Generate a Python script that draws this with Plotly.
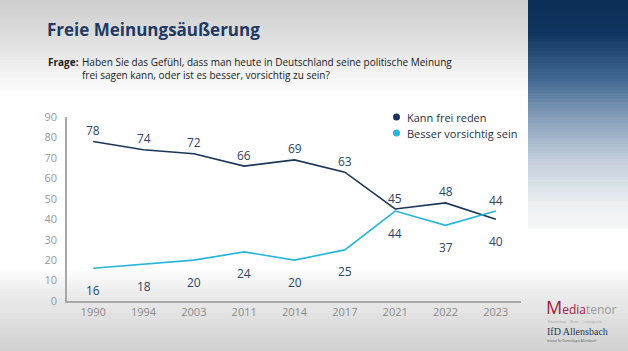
import plotly.graph_objects as go
import numpy as np

# ---- data ----
years = ["1990", "1994", "2003", "2011", "2014", "2017", "2021", "2022", "2023"]
kann_frei_reden = [78, 74, 72, 66, 69, 63, 45, 48, 40]
besser_vorsichtig = [16, 18, 20, 24, 20, 25, 44, 37, 44]
series_names = ["Kann frei reden", "Besser vorsichtig sein"]
y_ticks = [0, 10, 20, 30, 40, 50, 60, 70, 80, 90]

title_text = "Freie Meinungsäußerung"
frage_label = "Frage:"
frage_text = ("Haben Sie das Gefühl, dass man heute in Deutschland seine politische Meinung<br>"
              "frei sagen kann, oder ist es besser, vorsichtig zu sein?")

# ---- layout geometry (pixels) ----
W, H = 628, 351
L, R, T, B = 67, 521, 117, 301

def px(x):
    return (x - L) / (R - L)

def py(y):
    return (B - y) / (B - T)

NAVY = "#1b3658"
CYAN = "#27b5dc"
LABEL = "#2b4668"
FONT = "Open Sans"
colors = [NAVY, CYAN]

fig = go.Figure()

for vals, name, col in zip([kann_frei_reden, besser_vorsichtig], series_names, colors):
    fig.add_trace(go.Scatter(x=years, y=vals, mode="lines", name=name,
                             line=dict(color=col, width=1.6), showlegend=False))

annotations = []
shapes = []

# value labels: higher series above its point, lower series below
for i, yr in enumerate(years):
    a, b = kann_frei_reden[i], besser_vorsichtig[i]
    for v, other in ((a, b), (b, a)):
        above = v >= other
        annotations.append(dict(x=i, y=v, xref="x", yref="y", text=str(v), showarrow=False,
                                yshift=11 if above else -22,
                                font=dict(family=FONT, size=12, color=LABEL)))

# legend (dots + text)
for k, (name, col) in enumerate(zip(series_names, colors)):
    yc = 117 + 16 * k
    shapes.append(dict(type="circle", xref="paper", yref="paper", layer="above",
                       x0=px(393), x1=px(400), y0=py(yc + 3.5), y1=py(yc - 3.5),
                       fillcolor=col, line=dict(width=0)))
    annotations.append(dict(x=px(405), y=py(yc), xref="paper", yref="paper", xanchor="left",
                            yanchor="middle", text=name, showarrow=False,
                            font=dict(family=FONT, size=11, color="#1f2f45")))

# title and question
annotations.append(dict(x=px(45), y=py(29), xref="paper", yref="paper", xanchor="left", yanchor="middle",
                        text="<b>" + title_text + "</b>", showarrow=False,
                        font=dict(family=FONT, size=17, color="#1f3a63")))
annotations.append(dict(x=px(46), y=py(53), xref="paper", yref="paper", xanchor="left", yanchor="top",
                        text="<b>" + frage_label + "</b>", showarrow=False,
                        font=dict(family=FONT, size=10, color="#1a1a1a")))
annotations.append(dict(x=px(80), y=py(53), xref="paper", yref="paper", xanchor="left", yanchor="top",
                        text=frage_text, showarrow=False, align="left",
                        font=dict(family=FONT, size=10, color="#1a1a1a")))

# logos as text
annotations.append(dict(x=px(544), y=py(307), xref="paper", yref="paper", xanchor="left", yanchor="middle",
                        text="<span style='font-size:18px;color:#a3213a'>M</span>"
                             "<span style='color:#a3213a'>edia</span><span style='color:#9a9a9a'>tenor</span>",
                        showarrow=False, font=dict(family=FONT, size=12)))
annotations.append(dict(x=px(546), y=py(322), xref="paper", yref="paper", xanchor="left", yanchor="middle",
                        text="Erkenntnisse  ·  Werte  ·  Leistungsziele", showarrow=False,
                        font=dict(family=FONT, size=3, color="#a0a0a0")))
annotations.append(dict(x=px(545), y=py(331), xref="paper", yref="paper", xanchor="left", yanchor="middle",
                        text="IfD Allensbach", showarrow=False,
                        font=dict(family="Liberation Serif", size=10, color="#2a3552")))
annotations.append(dict(x=px(545), y=py(341), xref="paper", yref="paper", xanchor="left", yanchor="middle",
                        text="Institut für Demoskopie Allensbach", showarrow=False,
                        font=dict(family=FONT, size=3, color="#555555")))

# ---- background gradients ----
def lerp_color(stops, t):
    ts = [s[0] for s in stops]
    def h2rgb(h):
        h = h.lstrip("#")
        return [int(h[k:k + 2], 16) for k in (0, 2, 4)]
    rgbs = np.array([h2rgb(s[1]) for s in stops], dtype=float)
    r = np.interp(t, ts, rgbs[:, 0]); g = np.interp(t, ts, rgbs[:, 1]); b = np.interp(t, ts, rgbs[:, 2])
    return "rgb(%d,%d,%d)" % (r, g, b)

def band(x0, x1, y0, y1, stops, step=3):
    for yy in np.arange(y0, y1, step):
        t = (yy - y0) / (y1 - y0)
        shapes.append(dict(type="rect", xref="paper", yref="paper", layer="below",
                           x0=px(x0), x1=px(x1), y0=py(yy + step + 0.5), y1=py(yy),
                           line=dict(width=0), fillcolor=lerp_color(stops, t)))

band(0, W, 0, 96, [(0, "#cfcfcf"), (0.35, "#dedede"), (0.75, "#f3f3f3"), (1, "#ffffff")])
band(0, W, 268, H, [(0, "#ffffff"), (0.3, "#ececec"), (1, "#d1d1d1")])
band(528, W, 0, 228, [(0, "#0c2f57"), (0.13, "#0f345d"), (0.33, "#3f6690"), (0.52, "#8aa3bd"),
                     (0.72, "#c9d4df"), (0.9, "#eef1f4"), (1, "#f7f7f7")])

fig.update_layout(
    width=W, height=H,
    margin=dict(l=L, r=W - R, t=T, b=H - B),
    paper_bgcolor="white", plot_bgcolor="rgba(0,0,0,0)",
    shapes=shapes, annotations=annotations, showlegend=False,
    xaxis=dict(type="category", range=[-0.52, 8.5], showline=True, linecolor="#a8a8a8", linewidth=1.5,
               showgrid=False, zeroline=False, ticks="",
               tickfont=dict(family=FONT, size=11, color="#8a8a8a")),
    yaxis=dict(range=[0, 90], tickvals=y_ticks, showline=True, linecolor="#a8a8a8", linewidth=1.5,
               showgrid=False, zeroline=False, ticks="", ticklabelstandoff=6,
               tickfont=dict(family=FONT, size=11, color="#9a9a9a")),
)

fig.write_html("out.html")
